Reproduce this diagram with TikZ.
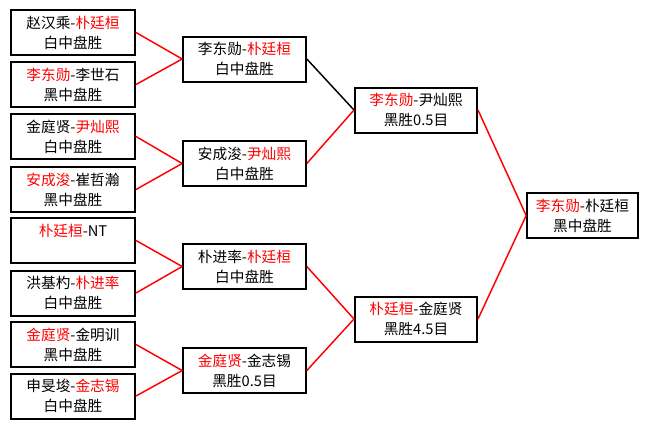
\documentclass[tikz,border=0pt]{standalone}
\usepackage{fontspec}
\setmainfont{Noto Sans CJK SC}
\newcommand{\victor}[1]{\textcolor{red}{#1}}
\begin{document}
\begin{tikzpicture}[x=0.75pt, y=-0.75pt, every node/.style={font=\fontsize{11}{15}\selectfont},
  game/.style={draw, line width=1.5pt, fill=white, align=center, inner sep=0pt, minimum height=33.75pt},
  win/.style={red, line width=1.1pt},
  lose/.style={black, line width=1.1pt}]
  \useasboundingbox (0,0) rectangle (660,429);

  % round 1
  \node[game, minimum width=93pt] (g1) at (73,32.5) {赵汉乘-\victor{朴廷桓}\\白中盘胜};
  \node[game, minimum width=93pt] (g2) at (73,84.5) {\victor{李东勋}-李世石\\黑中盘胜};
  \node[game, minimum width=93pt] (g3) at (73,136.5) {金庭贤-\victor{尹灿熙}\\白中盘胜};
  \node[game, minimum width=93pt] (g4) at (73,189.5) {\victor{安成浚}-崔哲瀚\\黑中盘胜};
  \node[game, minimum width=93pt] (g5) at (73,240.5) {\victor{朴廷桓}-NT\\\mbox{}};
  \node[game, minimum width=93pt] (g6) at (73,293) {洪基杓-\victor{朴进率}\\白中盘胜};
  \node[game, minimum width=93pt] (g7) at (73,344.5) {\victor{金庭贤}-金明训\\黑中盘胜};
  \node[game, minimum width=93pt] (g8) at (73,396) {申旻埈-\victor{金志锡}\\白中盘胜};

  % round 2
  \node[game, minimum width=92pt] (q1) at (244.5,59) {李东勋-\victor{朴廷桓}\\白中盘胜};
  \node[game, minimum width=92pt] (q2) at (244.5,163.5) {安成浚-\victor{尹灿熙}\\白中盘胜};
  \node[game, minimum width=92pt] (q3) at (244.5,266.5) {朴进率-\victor{朴廷桓}\\白中盘胜};
  \node[game, minimum width=92pt] (q4) at (244.5,370.5) {\victor{金庭贤}-金志锡\\黑胜0.5目};

  % round 3
  \node[game, minimum width=91.5pt] (s1) at (416,110) {\victor{李东勋}-尹灿熙\\黑胜0.5目};
  \node[game, minimum width=91.5pt] (s2) at (416,319) {\victor{朴廷桓}-金庭贤\\黑胜4.5目};

  % final
  \node[game, minimum width=83pt] (fin) at (582.5,215.5) {\victor{李东勋}-朴廷桓\\黑中盘胜};

  \draw[win] (g1.east) -- (q1.west);
  \draw[win] (g2.east) -- (q1.west);
  \draw[win] (g3.east) -- (q2.west);
  \draw[win] (g4.east) -- (q2.west);
  \draw[win] (g5.east) -- (q3.west);
  \draw[win] (g6.east) -- (q3.west);
  \draw[win] (g7.east) -- (q4.west);
  \draw[win] (g8.east) -- (q4.west);
  \draw[lose] (q1.east) -- (s1.west);
  \draw[win] (q2.east) -- (s1.west);
  \draw[win] (q3.east) -- (s2.west);
  \draw[win] (q4.east) -- (s2.west);
  \draw[win] (s1.east) -- (fin.west);
  \draw[win] (s2.east) -- (fin.west);
\end{tikzpicture}
\end{document}
